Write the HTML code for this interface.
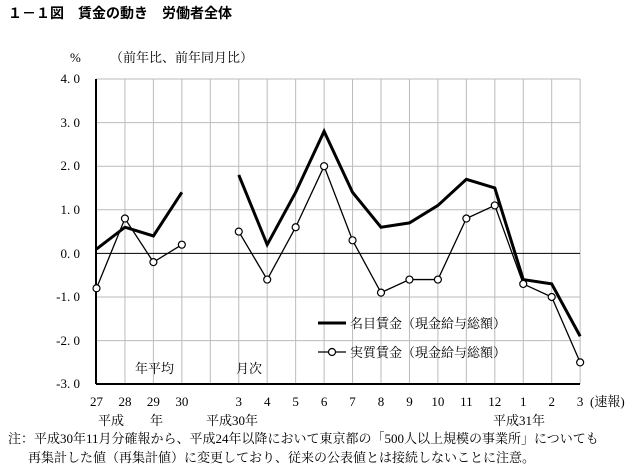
<!DOCTYPE html>
<html><head><meta charset="utf-8"><style>
body{margin:0;background:#fff;}
svg{display:block;font-family:"Liberation Serif","Noto Serif CJK SC",serif;}
</style></head><body>
<svg width="630" height="473" viewBox="0 0 630 473">
<text x="8" y="18" font-size="14" font-weight="bold" font-family="Liberation Sans,Noto Sans CJK JP,sans-serif">１－１図　賃金の動き　労働者全体</text>
<text x="70" y="62" font-size="13">%</text>
<text x="110" y="62" font-size="13">（前年比、前年同月比）</text>
<g stroke="#bbb" stroke-width="1">
<line x1="96" y1="79" x2="580" y2="79"/>
<line x1="96" y1="122.6" x2="580" y2="122.6"/>
<line x1="96" y1="166.2" x2="580" y2="166.2"/>
<line x1="96" y1="209.8" x2="580" y2="209.8"/>
<line x1="96" y1="297" x2="580" y2="297"/>
<line x1="96" y1="340.6" x2="580" y2="340.6"/>
</g>
<g id="vg" stroke="#bbb" stroke-width="1"></g>
<line x1="96" y1="253.4" x2="580" y2="253.4" stroke="#000" stroke-width="1"/>
<line x1="96" y1="79" x2="96" y2="384" stroke="#000" stroke-width="2"/>
<line x1="96" y1="384" x2="580" y2="384" stroke="#000" stroke-width="2"/>
<g font-size="13" text-anchor="end">
<text x="80" y="83">4. 0</text><text x="80" y="127">3. 0</text><text x="80" y="170">2. 0</text><text x="80" y="214">1. 0</text><text x="80" y="258">0. 0</text><text x="80" y="301">-1. 0</text><text x="80" y="345">-2. 0</text><text x="80" y="388">-3. 0</text>
</g>
<g id="xl" font-size="13" text-anchor="middle"></g>
<text x="590" y="406" font-size="13">(速報)</text>
<g font-size="13">
<text x="98" y="425">平成</text><text x="150" y="425">年</text>
<text x="206" y="425">平成30年</text>
<text x="493" y="425">平成31年</text>
<text x="135" y="373">年平均</text><text x="236" y="373">月次</text>
<text x="8" y="443">注：平成30年11月分確報から、平成24年以降において東京都の「500人以上規模の事業所」についても</text>
<text x="28" y="462">再集計した値（再集計値）に変更しており、従来の公表値とは接続しないことに注意。</text>
<text x="350" y="328">名目賃金（現金給与総額）</text>
<text x="350" y="357">実質賃金（現金給与総額）</text>
</g>
<line x1="318" y1="323" x2="346" y2="323" stroke="#000" stroke-width="3"/>
<line x1="318" y1="352" x2="346" y2="352" stroke="#000" stroke-width="1.3"/>
<circle cx="332" cy="352" r="3.5" fill="#fff" stroke="#000" stroke-width="1.2"/>
<g id="data"></g>
</svg>
<script>
var xs=[];for(var i=0;i<18;i++)xs.push(96.5+i*28.45);
var vg=document.getElementById('vg'),s='';
for(var i=1;i<18;i++)s+='<line x1="'+xs[i]+'" y1="79" x2="'+xs[i]+'" y2="384"/>';
vg.innerHTML=s;
var labs=['27','28','29','30','','3','4','5','6','7','8','9','10','11','12','1','2','3'];
s='';for(var i=0;i<18;i++)if(labs[i])s+='<text x="'+xs[i]+'" y="406">'+labs[i]+'</text>';
document.getElementById('xl').innerHTML=s;
function y(v){return 79+(4-v)*43.6;}
var nom=[0.1,0.6,0.4,1.4,null,1.8,0.2,1.4,2.8,1.4,0.6,0.7,1.1,1.7,1.5,-0.6,-0.7,-1.9];
var real=[-0.8,0.8,-0.2,0.2,null,0.5,-0.6,0.6,2.0,0.3,-0.9,-0.6,-0.6,0.8,1.1,-0.7,-1.0,-2.5];
function pl(a){var segs=[],cur=[];a.forEach(function(v,i){if(v===null){segs.push(cur);cur=[];}else cur.push(xs[i]+','+y(v));});segs.push(cur);return segs;}
s='';
pl(real).forEach(function(p){s+='<polyline points="'+p.join(' ')+'" fill="none" stroke="#000" stroke-width="1.3"/>';});
pl(nom).forEach(function(p){s+='<polyline points="'+p.join(' ')+'" fill="none" stroke="#000" stroke-width="3" stroke-linejoin="miter"/>';});
real.forEach(function(v,i){if(v!==null)s+='<circle cx="'+xs[i]+'" cy="'+y(v)+'" r="3.5" fill="#fff" stroke="#000" stroke-width="1.2"/>';});
document.getElementById('data').innerHTML=s;
</script>
</body></html>
